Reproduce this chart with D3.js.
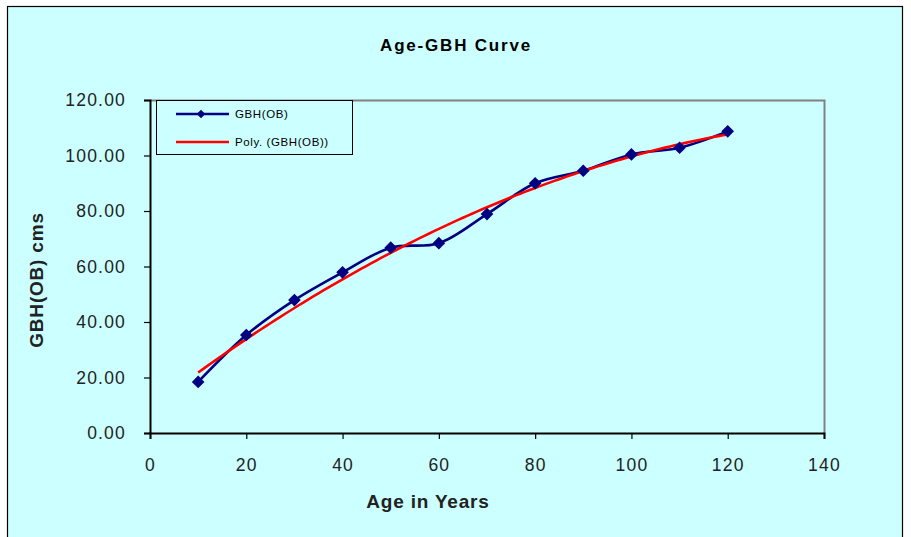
<!DOCTYPE html>
<html><head><meta charset="utf-8">
<script src="https://cdn.jsdelivr.net/npm/d3@7"></script>
<style>body{margin:0;background:#fff;}svg{display:block;font-family:Arial,"Liberation Sans",sans-serif;}</style>
</head><body>
<svg id="c" width="911" height="537"></svg>
<script>
const ages = [10,20,30,40,50,60,70,80,90,100,110,120];
const gbh = [18.4,35.3,47.9,57.9,66.8,68.4,78.9,90.0,94.5,100.4,102.8,108.7];
const xTicks = [0,20,40,60,80,100,120,140];
const yTicks = [0,20,40,60,80,100,120];
const seriesNames = ["GBH(OB)","Poly. (GBH(OB))"];

const svg = d3.select("#c");
const m = {l:150, r:824, t:100, b:433};
svg.append("rect").attr("x",7.5).attr("y",6.5).attr("width",895).attr("height",540)
  .attr("fill","#CCFFFF").attr("stroke","#000").attr("stroke-width",1.2);

const x = d3.scaleLinear().domain([0,140]).range([m.l,m.r]);
const y = d3.scaleLinear().domain([0,120]).range([m.b,m.t]);

svg.append("path").attr("d",`M${m.l},${m.t+0.5}H${m.r+0.5}V${m.b}`).attr("fill","none").attr("stroke","#808080").attr("stroke-width",2);

const xa = svg.append("g").attr("transform",`translate(0,${m.b})`)
  .call(d3.axisBottom(x).tickValues(xTicks).tickSize(6).tickPadding(20));
const ya = svg.append("g").attr("transform",`translate(${m.l},0)`)
  .call(d3.axisLeft(y).tickValues(yTicks).tickFormat(d3.format(".2f")).tickSize(6).tickPadding(18));
[xa,ya].forEach(g=>{
  g.select(".domain").attr("stroke","#000").attr("stroke-width",2);
  g.selectAll(".tick line").attr("stroke","#000").attr("stroke-width",1.2);
  g.selectAll(".tick text").attr("fill","#222").style("font-size","17.5px").style("letter-spacing","1.2px")
    .style("font-family","Arial,'Liberation Sans',sans-serif");
});

// quadratic least-squares trendline derived from the data
function polyfit2(xs, ys){
  let S=[0,0,0,0,0], T=[0,0,0];
  xs.forEach((xv,i)=>{for(let k=0;k<5;k++)S[k]+=Math.pow(xv,k);for(let k=0;k<3;k++)T[k]+=ys[i]*Math.pow(xv,k);});
  const A=[[S[0],S[1],S[2],T[0]],[S[1],S[2],S[3],T[1]],[S[2],S[3],S[4],T[2]]];
  for(let i=0;i<3;i++){for(let j=i+1;j<3;j++){const f=A[j][i]/A[i][i];for(let k=i;k<4;k++)A[j][k]-=f*A[i][k];}}
  const c=[0,0,0];
  for(let i=2;i>=0;i--){let s=A[i][3];for(let k=i+1;k<3;k++)s-=A[i][k]*c[k];c[i]=s/A[i][i];}
  return c;
}
const cf = polyfit2(ages,gbh);
const trend = d3.range(10,120.01,1).map(a=>[a, cf[0]+cf[1]*a+cf[2]*a*a]);

const data = ages.map((a,i)=>[a,gbh[i]]);
svg.append("path").datum(data).attr("fill","none").attr("stroke","#000080").attr("stroke-width",2.6)
  .attr("d", d3.line().x(d=>x(d[0])).y(d=>y(d[1])).curve(d3.curveCatmullRom.alpha(0.5)));
svg.append("path").datum(trend).attr("fill","none").attr("stroke","#FF0000").attr("stroke-width",2.6)
  .attr("d", d3.line().x(d=>x(d[0])).y(d=>y(d[1])));
svg.selectAll(".pt").data(data).join("path").attr("class","pt")
  .attr("transform",d=>`translate(${x(d[0])},${y(d[1])}) rotate(45)`)
  .attr("d", d3.symbol().type(d3.symbolSquare).size(80)).attr("fill","#000080");

// legend
const lg = svg.append("g");
lg.append("rect").attr("x",156.5).attr("y",100.5).attr("width",196).attr("height",54).attr("fill","#CCFFFF").attr("stroke","#000").attr("stroke-width",1);
lg.append("line").attr("x1",176).attr("x2",229).attr("y1",114).attr("y2",114).attr("stroke","#000080").attr("stroke-width",2.6);
lg.append("path").attr("transform","translate(201,114) rotate(45)").attr("d",d3.symbol().type(d3.symbolSquare).size(36)).attr("fill","#000080");
lg.append("line").attr("x1",176).attr("x2",229).attr("y1",142).attr("y2",142).attr("stroke","#FF0000").attr("stroke-width",2.6);
lg.selectAll(".lt").data(seriesNames).join("text").attr("class","lt")
  .attr("x",235).attr("y",(d,i)=>118+i*28).attr("fill","#000").style("font-size","11.5px").style("letter-spacing","0.6px").text(d=>d);

svg.append("text").attr("x",456).attr("y",51).attr("text-anchor","middle").style("font-size","17px").style("font-weight","bold").style("letter-spacing","1.8px").attr("fill","#000").text("Age-GBH Curve");
svg.append("text").attr("x",428).attr("y",508).attr("text-anchor","middle").style("font-size","19px").style("font-weight","bold").style("letter-spacing","0.8px").attr("fill","#222").text("Age in Years");
svg.append("text").attr("transform","translate(43,280) rotate(-90)").attr("text-anchor","middle").style("font-size","19px").style("font-weight","bold").style("letter-spacing","0.8px").attr("fill","#222").text("GBH(OB) cms");
</script>
</body></html>
